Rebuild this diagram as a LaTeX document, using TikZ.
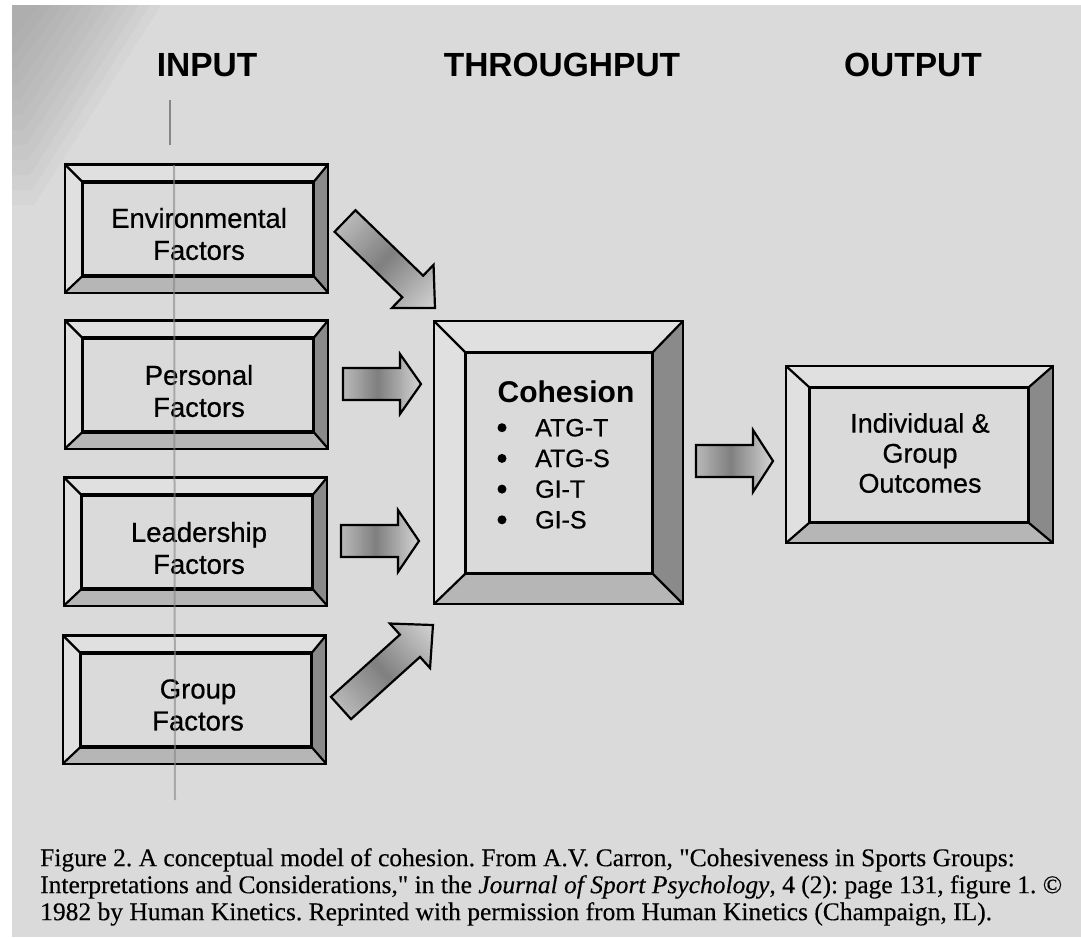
\documentclass[tikz,border=0pt]{standalone}
\usepackage{fontspec}
\setmainfont{Liberation Sans}
\newfontfamily\boxfont[FakeBold=0.6]{Liberation Sans}
\newfontfamily\capfont[FakeBold=0.3]{Liberation Serif}
\usetikzlibrary{calc}

\definecolor{paper}{RGB}{218,218,218}
\definecolor{bevlight}{RGB}{224,224,224}
\definecolor{bevdark}{RGB}{138,138,138}
\definecolor{bevmid}{RGB}{182,182,182}
\definecolor{shadow}{RGB}{150,150,150}
\definecolor{scanline}{RGB}{135,135,135}

\tikzset{
  face/.style={draw=black, line width=2.2pt, fill=paper, inner sep=0pt},
  boxtext/.style={font=\boxfont\fontsize{27.5}{32}\selectfont, align=center},
  listtext/.style={font=\boxfont\fontsize{25}{30}\selectfont, inner sep=0pt},
  header/.style={font=\fontsize{33.5}{36}\selectfont\bfseries},
  edge/.style={draw=black, line width=2.2pt, line join=miter},
  bulletdot/.style={circle, fill=black, inner sep=0pt, minimum size=9pt},
}

% bevelled frame around a face node: #1 node, #2 left, #3 top, #4 right, #5 bottom
\newcommand\bevel[5]{%
  \coordinate (#1-onw) at ($(#1.north west)+(-#2,-#3)$);
  \coordinate (#1-one) at ($(#1.north east)+(#4,-#3)$);
  \coordinate (#1-ose) at ($(#1.south east)+(#4,#5)$);
  \coordinate (#1-osw) at ($(#1.south west)+(-#2,#5)$);
  \fill[bevlight] (#1-onw) -- (#1-one) -- (#1.north east) -- (#1.north west) -- cycle;
  \fill[bevlight] (#1-onw) -- (#1.north west) -- (#1.south west) -- (#1-osw) -- cycle;
  \fill[bevdark] (#1-one) -- (#1-ose) -- (#1.south east) -- (#1.north east) -- cycle;
  \fill[bevmid] (#1-osw) -- (#1.south west) -- (#1.south east) -- (#1-ose) -- cycle;
  \draw[edge] (#1-onw) -- (#1-one) -- (#1-ose) -- (#1-osw) -- cycle;
  \draw[edge] (#1.north west) -- (#1.north east) -- (#1.south east) -- (#1.south west) -- cycle;
  \draw[edge] (#1-onw) -- (#1.north west) (#1-one) -- (#1.north east)
              (#1-ose) -- (#1.south east) (#1-osw) -- (#1.south west);
}

% shaded block arrow: #1 tail, #2 tip, #3 shaft half width, #4 head half width, #5 head length
\newcommand\blockarrow[5]{%
  \pgfpointdiff{\pgfpointanchor{#1}{center}}{\pgfpointanchor{#2}{center}}%
  \pgfgetlastxy{\arrdx}{\arrdy}%
  \pgfmathsetmacro\arrang{atan2(\arrdy,\arrdx)}%
  \pgfmathsetmacro\arrlen{veclen(\arrdx,\arrdy)}%
  \pgfmathsetmacro\arrneck{\arrlen-#5}%
  \begin{scope}[shift={(#1)}, rotate=\arrang, x=1pt, y=1pt]
    \begin{scope}
      \clip (0,-#3) -- (\arrneck,-#3) -- (\arrneck,-#4) -- (\arrlen,0)
            -- (\arrneck,#4) -- (\arrneck,#3) -- (0,#3) -- cycle;
      \foreach \i in {0,...,39}{
        \pgfmathsetmacro\arrt{\i/39}
        \pgfmathsetmacro\arrlev{\arrt<0.45 ? 0.72-0.22*\arrt/0.45 : 0.50+0.32*(\arrt-0.45)/0.55}
        \definecolor{stripcol}{gray}{\arrlev}
        \pgfmathsetmacro\arra{\i*\arrlen/40}
        \pgfmathsetmacro\arrb{(\i+1)*\arrlen/40+0.8}
        \fill[stripcol] (\arra,-#4-1) -- (\arrb,-#4-1) -- (\arrb,#4+1) -- (\arra,#4+1) -- cycle;
      }
    \end{scope}
    \draw[edge] (0,-#3) -- (\arrneck,-#3) -- (\arrneck,-#4) -- (\arrlen,0)
          -- (\arrneck,#4) -- (\arrneck,#3) -- (0,#3) -- cycle;
  \end{scope}}

\begin{document}
\begin{tikzpicture}[x=1pt, y=-1pt]
  \useasboundingbox (0,0) rectangle (1081,937);
  \fill[white] (0,0) rectangle (1081,937);
  \fill[paper] (12,5) rectangle (1081,937);
  % soft scan shadow in the upper left corner
  \foreach \k in {0,...,11}{
    \fill[shadow, opacity=0.07] (12,5) -- ({40+\k*11},5) -- ({12+\k*2},{40+\k*15}) -- (12,{40+\k*15}) -- cycle;
  }

  % column headings
  \node[header] (hin)  at (207,65) {INPUT};
  \node[header] (hthr) at (562,65) {THROUGHPUT};
  \node[header] (hout) at (913,65) {OUTPUT};

  % input boxes
  \node[face, minimum width=230pt, minimum height=93pt] (env) at (198,229) {};
  \bevel{env}{17}{17}{14}{16}
  \node[boxtext] (envt) at (199,234) {Environmental\\Factors};
  \node[face, minimum width=230pt, minimum height=93pt] (pers) at (198,385) {};
  \bevel{pers}{17}{17}{14}{16}
  \node[boxtext] (perst) at (199,391) {Personal\\Factors};
  \node[face, minimum width=230pt, minimum height=93pt] (lead) at (197,542) {};
  \bevel{lead}{17}{17}{14}{16}
  \node[boxtext] (leadt) at (199,548) {Leadership\\Factors};
  \node[face, minimum width=230pt, minimum height=93pt] (grp) at (196,700) {};
  \bevel{grp}{17}{17}{14}{16}
  \node[boxtext] (grpt) at (198,705) {Group\\Factors};

  % throughput box
  \node[face, minimum width=186pt, minimum height=220pt] (coh) at (559,463) {};
  \bevel{coh}{31}{31}{30}{30}
  \node[font=\fontsize{30}{34}\selectfont\bfseries] (cohtitle) at (566,392) {Cohesion};
  \foreach \lbl [count=\k] in {ATG-T,ATG-S,GI-T,GI-S}{
    \node[bulletdot] (bul\k) at (502,{397+\k*30.7}) {};
    \node[listtext, anchor=west] (itm\k) at (535,{397+\k*30.7}) {\lbl};
  }

  % output box
  \node[face, minimum width=218pt, minimum height=134pt] (outc) at (919,455) {};
  \bevel{outc}{23}{21}{24}{20}
  \node[font=\boxfont\fontsize{27}{30}\selectfont, align=center] (outct) at (920,453) {Individual \&\\Group\\Outcomes};

  % block arrows
  \coordinate (a1t) at (345,221); \coordinate (a1h) at (435,308);
  \coordinate (a2t) at (343,384); \coordinate (a2h) at (421,384);
  \coordinate (a3t) at (341,541); \coordinate (a3h) at (419,541);
  \coordinate (a4t) at (341,708); \coordinate (a4h) at (433,625);
  \coordinate (a5t) at (696,461); \coordinate (a5h) at (773,461);
  \blockarrow{a1t}{a1h}{15}{30}{31}
  \blockarrow{a2t}{a2h}{16}{30}{21}
  \blockarrow{a3t}{a3h}{16}{31}{21}
  \blockarrow{a4t}{a4h}{15}{30}{31}
  \blockarrow{a5t}{a5h}{16}{31}{20}

  % scanner streaks
  \draw[scanline, line width=2.5pt] (170,100) -- (170,145);
  \draw[scanline, line width=2pt, opacity=0.6] (174,165) -- (175,800);

  % caption
  \node[anchor=north west, inner sep=0pt, align=left,
        font=\capfont\fontsize{25.5}{27}\selectfont\frenchspacing] (cap) at (40,848)
    {Figure 2. A conceptual model of cohesion. From A.V. Carron, "Cohesiveness in Sports Groups:\\
     Interpretations and Considerations," in the \textit{Journal of Sport Psychology}, 4 (2): page 131, figure 1. ©\\
     1982 by Human Kinetics. Reprinted with permission from Human Kinetics (Champaign, IL).};
\end{tikzpicture}
\end{document}
